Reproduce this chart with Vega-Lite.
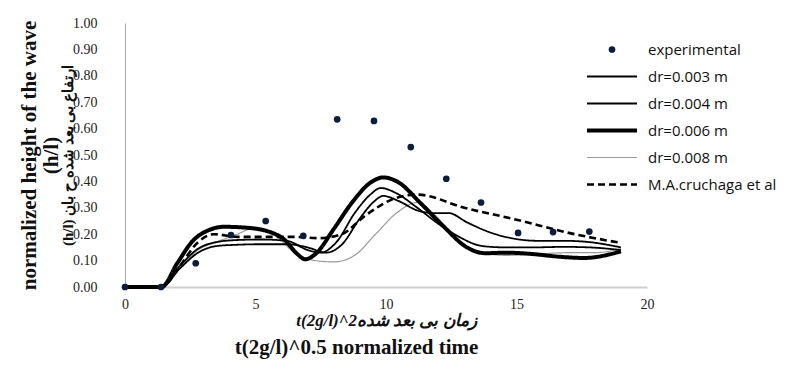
{
  "$schema": "https://vega.github.io/schema/vega-lite/v6.json",
  "width": 522,
  "height": 264,
  "autosize": {"type": "none"},
  "padding": {"left": 125, "top": 23, "right": 143, "bottom": 78},
  "background": "white",
  "config": {
    "view": {"stroke": null},
    "legend": {
      "orient": "none", "legendX": 460, "legendY": 13, "padding": 0,
      "labelFont": "Open Sans", "labelFontSize": 15, "labelColor": "#111",
      "rowPadding": 0, "clipHeight": 27, "labelOffset": 9, "symbolOpacity": 1
    }
  },
  "datasets": {
    "curves": [
      {"series": "dr=0.008 m", "x": 0, "y": 0},
      {"series": "dr=0.008 m", "x": 1.4, "y": 0},
      {"series": "dr=0.008 m", "x": 2.1, "y": 0.07},
      {"series": "dr=0.008 m", "x": 2.8, "y": 0.14},
      {"series": "dr=0.008 m", "x": 3.5, "y": 0.17},
      {"series": "dr=0.008 m", "x": 4.3, "y": 0.2},
      {"series": "dr=0.008 m", "x": 5.0, "y": 0.225},
      {"series": "dr=0.008 m", "x": 5.7, "y": 0.2},
      {"series": "dr=0.008 m", "x": 6.5, "y": 0.13},
      {"series": "dr=0.008 m", "x": 7.3, "y": 0.1},
      {"series": "dr=0.008 m", "x": 8.0, "y": 0.095},
      {"series": "dr=0.008 m", "x": 8.8, "y": 0.12},
      {"series": "dr=0.008 m", "x": 9.6, "y": 0.2},
      {"series": "dr=0.008 m", "x": 10.4, "y": 0.28},
      {"series": "dr=0.008 m", "x": 11.2, "y": 0.32},
      {"series": "dr=0.008 m", "x": 11.9, "y": 0.27},
      {"series": "dr=0.008 m", "x": 12.8, "y": 0.17},
      {"series": "dr=0.008 m", "x": 13.6, "y": 0.13},
      {"series": "dr=0.008 m", "x": 14.6, "y": 0.12},
      {"series": "dr=0.008 m", "x": 15.8, "y": 0.125},
      {"series": "dr=0.008 m", "x": 17.0, "y": 0.13},
      {"series": "dr=0.008 m", "x": 18.0, "y": 0.13},
      {"series": "dr=0.008 m", "x": 19.0, "y": 0.145},

      {"series": "dr=0.003 m", "x": 0, "y": 0},
      {"series": "dr=0.003 m", "x": 1.4, "y": 0},
      {"series": "dr=0.003 m", "x": 2.1, "y": 0.07},
      {"series": "dr=0.003 m", "x": 2.8, "y": 0.13},
      {"series": "dr=0.003 m", "x": 3.5, "y": 0.155},
      {"series": "dr=0.003 m", "x": 4.3, "y": 0.16},
      {"series": "dr=0.003 m", "x": 5.2, "y": 0.162},
      {"series": "dr=0.003 m", "x": 6.2, "y": 0.162},
      {"series": "dr=0.003 m", "x": 7.0, "y": 0.15},
      {"series": "dr=0.003 m", "x": 7.7, "y": 0.13},
      {"series": "dr=0.003 m", "x": 8.3, "y": 0.16},
      {"series": "dr=0.003 m", "x": 9.0, "y": 0.26},
      {"series": "dr=0.003 m", "x": 9.5, "y": 0.32},
      {"series": "dr=0.003 m", "x": 9.9, "y": 0.345},
      {"series": "dr=0.003 m", "x": 10.5, "y": 0.325},
      {"series": "dr=0.003 m", "x": 11.2, "y": 0.29},
      {"series": "dr=0.003 m", "x": 11.8, "y": 0.28},
      {"series": "dr=0.003 m", "x": 12.4, "y": 0.28},
      {"series": "dr=0.003 m", "x": 13.1, "y": 0.245},
      {"series": "dr=0.003 m", "x": 13.9, "y": 0.21},
      {"series": "dr=0.003 m", "x": 14.8, "y": 0.185},
      {"series": "dr=0.003 m", "x": 15.8, "y": 0.175},
      {"series": "dr=0.003 m", "x": 16.8, "y": 0.175},
      {"series": "dr=0.003 m", "x": 17.8, "y": 0.17},
      {"series": "dr=0.003 m", "x": 19.0, "y": 0.15},

      {"series": "dr=0.004 m", "x": 0, "y": 0},
      {"series": "dr=0.004 m", "x": 1.4, "y": 0},
      {"series": "dr=0.004 m", "x": 2.1, "y": 0.08},
      {"series": "dr=0.004 m", "x": 2.8, "y": 0.145},
      {"series": "dr=0.004 m", "x": 3.5, "y": 0.17},
      {"series": "dr=0.004 m", "x": 4.3, "y": 0.178},
      {"series": "dr=0.004 m", "x": 5.2, "y": 0.18},
      {"series": "dr=0.004 m", "x": 6.2, "y": 0.175},
      {"series": "dr=0.004 m", "x": 7.0, "y": 0.14},
      {"series": "dr=0.004 m", "x": 7.5, "y": 0.13},
      {"series": "dr=0.004 m", "x": 8.1, "y": 0.17},
      {"series": "dr=0.004 m", "x": 8.8, "y": 0.28},
      {"series": "dr=0.004 m", "x": 9.4, "y": 0.35},
      {"series": "dr=0.004 m", "x": 9.8, "y": 0.375},
      {"series": "dr=0.004 m", "x": 10.4, "y": 0.355},
      {"series": "dr=0.004 m", "x": 11.2, "y": 0.3},
      {"series": "dr=0.004 m", "x": 12.0, "y": 0.24},
      {"series": "dr=0.004 m", "x": 12.8, "y": 0.19},
      {"series": "dr=0.004 m", "x": 13.7, "y": 0.155},
      {"series": "dr=0.004 m", "x": 14.6, "y": 0.15},
      {"series": "dr=0.004 m", "x": 15.6, "y": 0.15},
      {"series": "dr=0.004 m", "x": 16.8, "y": 0.152},
      {"series": "dr=0.004 m", "x": 17.8, "y": 0.15},
      {"series": "dr=0.004 m", "x": 19.0, "y": 0.14},

      {"series": "dr=0.006 m", "x": 0, "y": 0},
      {"series": "dr=0.006 m", "x": 1.4, "y": 0},
      {"series": "dr=0.006 m", "x": 2.0, "y": 0.09},
      {"series": "dr=0.006 m", "x": 2.6, "y": 0.175},
      {"series": "dr=0.006 m", "x": 3.2, "y": 0.215},
      {"series": "dr=0.006 m", "x": 3.8, "y": 0.228},
      {"series": "dr=0.006 m", "x": 4.6, "y": 0.225},
      {"series": "dr=0.006 m", "x": 5.5, "y": 0.21},
      {"series": "dr=0.006 m", "x": 6.1, "y": 0.18},
      {"series": "dr=0.006 m", "x": 6.6, "y": 0.125},
      {"series": "dr=0.006 m", "x": 6.9, "y": 0.105},
      {"series": "dr=0.006 m", "x": 7.3, "y": 0.125},
      {"series": "dr=0.006 m", "x": 8.0, "y": 0.22},
      {"series": "dr=0.006 m", "x": 8.7, "y": 0.32},
      {"series": "dr=0.006 m", "x": 9.4, "y": 0.395},
      {"series": "dr=0.006 m", "x": 9.9, "y": 0.415},
      {"series": "dr=0.006 m", "x": 10.5, "y": 0.395},
      {"series": "dr=0.006 m", "x": 11.3, "y": 0.32},
      {"series": "dr=0.006 m", "x": 12.2, "y": 0.23},
      {"series": "dr=0.006 m", "x": 13.1, "y": 0.15},
      {"series": "dr=0.006 m", "x": 13.8, "y": 0.128},
      {"series": "dr=0.006 m", "x": 14.6, "y": 0.13},
      {"series": "dr=0.006 m", "x": 15.6, "y": 0.125},
      {"series": "dr=0.006 m", "x": 16.6, "y": 0.115},
      {"series": "dr=0.006 m", "x": 17.6, "y": 0.11},
      {"series": "dr=0.006 m", "x": 19.0, "y": 0.135},

      {"series": "M.A.cruchaga et al", "x": 0, "y": 0},
      {"series": "M.A.cruchaga et al", "x": 1.4, "y": 0},
      {"series": "M.A.cruchaga et al", "x": 2.1, "y": 0.08},
      {"series": "M.A.cruchaga et al", "x": 2.8, "y": 0.17},
      {"series": "M.A.cruchaga et al", "x": 3.4, "y": 0.2},
      {"series": "M.A.cruchaga et al", "x": 4.3, "y": 0.19},
      {"series": "M.A.cruchaga et al", "x": 5.4, "y": 0.19},
      {"series": "M.A.cruchaga et al", "x": 6.5, "y": 0.19},
      {"series": "M.A.cruchaga et al", "x": 7.4, "y": 0.185},
      {"series": "M.A.cruchaga et al", "x": 8.3, "y": 0.2},
      {"series": "M.A.cruchaga et al", "x": 9.2, "y": 0.27},
      {"series": "M.A.cruchaga et al", "x": 10.2, "y": 0.33},
      {"series": "M.A.cruchaga et al", "x": 11.2, "y": 0.35},
      {"series": "M.A.cruchaga et al", "x": 13.0, "y": 0.3},
      {"series": "M.A.cruchaga et al", "x": 15.0, "y": 0.255},
      {"series": "M.A.cruchaga et al", "x": 17.0, "y": 0.205},
      {"series": "M.A.cruchaga et al", "x": 19.0, "y": 0.167}
    ],
    "experimental": [
      {"series": "experimental", "x": 0, "y": 0},
      {"series": "experimental", "x": 1.38, "y": 0},
      {"series": "experimental", "x": 2.71, "y": 0.09},
      {"series": "experimental", "x": 4.06, "y": 0.197},
      {"series": "experimental", "x": 5.39, "y": 0.25},
      {"series": "experimental", "x": 6.83, "y": 0.194},
      {"series": "experimental", "x": 8.13, "y": 0.635},
      {"series": "experimental", "x": 9.54, "y": 0.629},
      {"series": "experimental", "x": 10.95, "y": 0.53},
      {"series": "experimental", "x": 12.31, "y": 0.41},
      {"series": "experimental", "x": 13.64, "y": 0.32},
      {"series": "experimental", "x": 15.06, "y": 0.205},
      {"series": "experimental", "x": 16.4, "y": 0.208},
      {"series": "experimental", "x": 17.79, "y": 0.21}
    ]
  },
  "layer": [
    {
      "data": {"name": "curves"},
      "mark": {"type": "line", "interpolate": "monotone", "strokeCap": "butt"},
      "encoding": {
        "x": {
          "field": "x", "type": "quantitative",
          "scale": {"domain": [0, 20], "nice": false, "zero": false},
          "axis": {
            "orient": "bottom",
            "values": [0, 5, 10, 15, 20],
            "grid": false, "ticks": false, "tickSize": 0,
            "domainColor": "#d0d0d0", "domainWidth": 2,
            "labelFont": "Liberation Serif", "labelFontSize": 14, "labelColor": "#222",
            "labelPadding": 10, "labelFlush": false,
            "title": "t(2g/l)^2زمان بی بعد شده",
            "titleFont": "Liberation Serif", "titleFontSize": 17, "titleFontWeight": "bold",
            "titleFontStyle": "italic", "titleColor": "#111", "titlePadding": 1
          }
        },
        "y": {
          "field": "y", "type": "quantitative",
          "scale": {"domain": [0, 1], "nice": false},
          "axis": {
            "orient": "left",
            "values": [0, 0.1, 0.2, 0.3, 0.4, 0.5, 0.6, 0.7, 0.8, 0.9, 1.0],
            "format": ".2f",
            "grid": false, "ticks": false, "tickSize": 0,
            "domainColor": "#a8a8a8", "domainWidth": 1,
            "labelFont": "Liberation Serif", "labelFontSize": 14, "labelColor": "#222",
            "labelPadding": 28, "labelFlush": false,
            "title": "(h/l) ارتفاع بی بعد شده ح بان",
            "titleFont": "Liberation Serif", "titleFontSize": 15, "titleFontWeight": "bold",
            "titleColor": "#111", "titlePadding": -3
          }
        },
        "detail": {"field": "series"},
        "color": {
          "field": "series", "type": "nominal",
          "scale": {
            "domain": ["experimental", "dr=0.003 m", "dr=0.004 m", "dr=0.006 m", "dr=0.008 m", "M.A.cruchaga et al"],
            "range": ["#0f1c3a", "#000000", "#000000", "#000000", "#9a9a9a", "#000000"]
          },
          "legend": {"title": null}
        },
        "strokeWidth": {
          "field": "series", "type": "nominal",
          "scale": {
            "type": "ordinal",
            "domain": ["experimental", "dr=0.003 m", "dr=0.004 m", "dr=0.006 m", "dr=0.008 m", "M.A.cruchaga et al"],
            "range": [0, 1.8, 1.8, 4, 1.2, 2.6]
          },
          "legend": {"title": null}
        },
        "strokeDash": {
          "field": "series", "type": "nominal",
          "scale": {
            "domain": ["experimental", "dr=0.003 m", "dr=0.004 m", "dr=0.006 m", "dr=0.008 m", "M.A.cruchaga et al"],
            "range": [[1, 0], [1, 0], [1, 0], [1, 0], [1, 0], [7, 4]]
          },
          "legend": {"title": null}
        },
        "order": {"field": "x", "type": "quantitative"}
      }
    },
    {
      "data": {"name": "experimental"},
      "mark": {"type": "point", "filled": true, "opacity": 1},
      "encoding": {
        "x": {
          "field": "x", "type": "quantitative",
          "axis": {
            "orient": "bottom", "labels": false, "ticks": false, "domain": false, "grid": false,
            "title": "t(2g/l)^0.5 normalized time",
            "titleFont": "Liberation Serif", "titleFontSize": 21, "titleFontWeight": "bold",
            "titleColor": "#111", "titlePadding": 49, "titleX": 231
          }
        },
        "y": {
          "field": "y", "type": "quantitative",
          "axis": {
            "orient": "left", "labels": false, "ticks": false, "domain": false, "grid": false,
            "title": ["normalized height of the wave", "(h/l)"],
            "titleFont": "Liberation Serif", "titleFontSize": 21, "titleFontWeight": "bold",
            "titleColor": "#111", "titlePadding": 64, "titleLineHeight": 22
          }
        },
        "color": {
          "field": "series", "type": "nominal",
          "scale": {
            "domain": ["experimental", "dr=0.003 m", "dr=0.004 m", "dr=0.006 m", "dr=0.008 m", "M.A.cruchaga et al"],
            "range": ["#0f1c3a", "#000000", "#000000", "#000000", "#9a9a9a", "#000000"]
          },
          "legend": {"title": null}
        },
        "shape": {
          "field": "series", "type": "nominal",
          "scale": {
            "domain": ["experimental", "dr=0.003 m", "dr=0.004 m", "dr=0.006 m", "dr=0.008 m", "M.A.cruchaga et al"],
            "range": ["circle", "stroke", "stroke", "stroke", "stroke", "stroke"]
          },
          "legend": {"title": null}
        },
        "size": {
          "field": "series", "type": "nominal",
          "scale": {
            "type": "ordinal",
            "domain": ["experimental", "dr=0.003 m", "dr=0.004 m", "dr=0.006 m", "dr=0.008 m", "M.A.cruchaga et al"],
            "range": [45, 2500, 2500, 2500, 2500, 2500]
          },
          "legend": {"title": null}
        }
      }
    }
  ],
  "resolve": {"axis": {"x": "independent", "y": "independent"}}
}
